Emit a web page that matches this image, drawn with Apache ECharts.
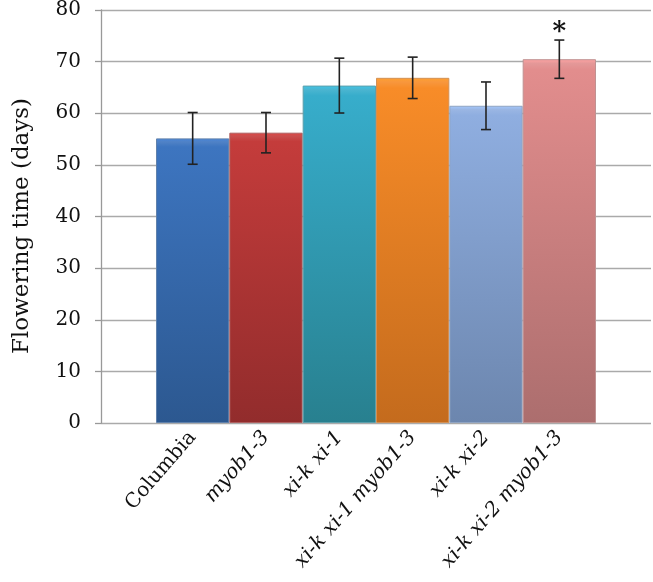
<!DOCTYPE html>
<html>
<head>
<meta charset="utf-8">
<script src="https://cdn.jsdelivr.net/npm/echarts@6/dist/echarts.min.js"></script>
<style>html,body{margin:0;padding:0;background:#fff;}#c{width:653px;height:582px;}</style>
</head>
<body>
<div id="c"></div>
<script>
var categories = ['Columbia', 'myob1-3', 'xi-k xi-1', 'xi-k xi-1 myob1-3', 'xi-k xi-2', 'xi-k xi-2 myob1-3'];
var italicLabels = [false, true, true, true, true, true];
var means = [55.0, 56.1, 65.2, 66.7, 61.3, 70.3];
var errors = [5.0, 3.9, 5.3, 4.0, 4.6, 3.7];
var marks = ['', '', '', '', '', '*'];
var topColors = ['#3D75C0', '#C43C3B', '#37ADCB', '#F88C28', '#8FAEE0', '#E28D8D'];
var bottomColors = ['#2C5890', '#922C2C', '#28808F', '#C46B1D', '#6C86AE', '#AC6E6E'];
var yTicks = [0, 80, 10];
var yTitle = 'Flowering time (days)';

var chart = echarts.init(document.getElementById('c'));
var serif = 'DejaVu Serif';

var barData = means.map(function (v, i) {
  return {
    value: v,
    itemStyle: {
      color: new echarts.graphic.LinearGradient(0, 0, 0, 1, [
        {offset: 0, color: echarts.color.lift(topColors[i], -0.15)},
        {offset: 0.012, color: echarts.color.lift(topColors[i], 0.1)},
        {offset: 0.03, color: topColors[i]},
        {offset: 1, color: bottomColors[i]}
      ]),
      borderColor: echarts.color.lift(bottomColors[i], 0.25),
      borderWidth: 1
    }
  };
});

var errData = means.map(function (v, i) { return [i, v, errors[i]]; });

chart.setOption({
  animation: false,
  backgroundColor: '#fff',
  grid: [
    {left: 101, right: 2, top: 9, bottom: 159},
    {left: 156, right: 57, top: 9, bottom: 159}
  ],
  xAxis: [
    {type: 'value', gridIndex: 0, min: 0, max: 1, show: false},
    {
      type: 'category', gridIndex: 1,
      data: categories.map(function (c, i) {
        return {value: c, textStyle: {fontStyle: italicLabels[i] ? 'italic' : 'normal'}};
      }),
      axisLine: {show: false},
      axisTick: {show: false},
      axisLabel: {rotate: 49, interval: 0, margin: 11, fontFamily: serif, fontSize: 20, color: '#111'}
    }
  ],
  yAxis: [
    {
      type: 'value', gridIndex: 0, min: yTicks[0], max: yTicks[1], interval: yTicks[2],
      axisLine: {show: true, lineStyle: {color: '#999', width: 1.3}},
      axisTick: {show: true, length: 6, lineStyle: {color: '#999', width: 1.3}},
      splitLine: {show: true, lineStyle: {color: '#aaa', width: 1.3}},
      axisLabel: {margin: 20, fontFamily: serif, fontSize: 20, color: '#111'}
    },
    {type: 'value', gridIndex: 1, min: yTicks[0], max: yTicks[1], interval: yTicks[2], show: false, splitLine: {show: false}}
  ],
  graphic: [{
    type: 'text', x: 22, y: 226, rotation: Math.PI / 2,
    style: {text: yTitle, font: '23px "DejaVu Serif"', fill: '#111', align: 'center', verticalAlign: 'middle'}
  }],
  series: [
    {
      type: 'bar', xAxisIndex: 1, yAxisIndex: 1, data: barData,
      barCategoryGap: '0%'
    },
    {
      type: 'custom', xAxisIndex: 1, yAxisIndex: 1, data: errData, z: 10,
      renderItem: function (params, api) {
        var i = api.value(0), m = api.value(1), e = api.value(2);
        var hi = api.coord([i, m + e]);
        var lo = api.coord([i, m - e]);
        var w = 5;
        var st = {stroke: '#222', lineWidth: 1.6};
        var children = [
          {type: 'line', shape: {x1: hi[0], y1: hi[1], x2: lo[0], y2: lo[1]}, style: st},
          {type: 'line', shape: {x1: hi[0] - w, y1: hi[1], x2: hi[0] + w, y2: hi[1]}, style: st},
          {type: 'line', shape: {x1: lo[0] - w, y1: lo[1], x2: lo[0] + w, y2: lo[1]}, style: st}
        ];
        var mk = marks[params.dataIndex];
        if (mk) {
          children.push({type: 'text', x: hi[0], y: hi[1] - 8,
            style: {text: mk, font: 'bold 26px "DejaVu Serif"', fill: '#111', align: 'center', verticalAlign: 'middle'}});
        }
        return {type: 'group', children: children};
      }
    }
  ]
});
</script>
</body>
</html>
